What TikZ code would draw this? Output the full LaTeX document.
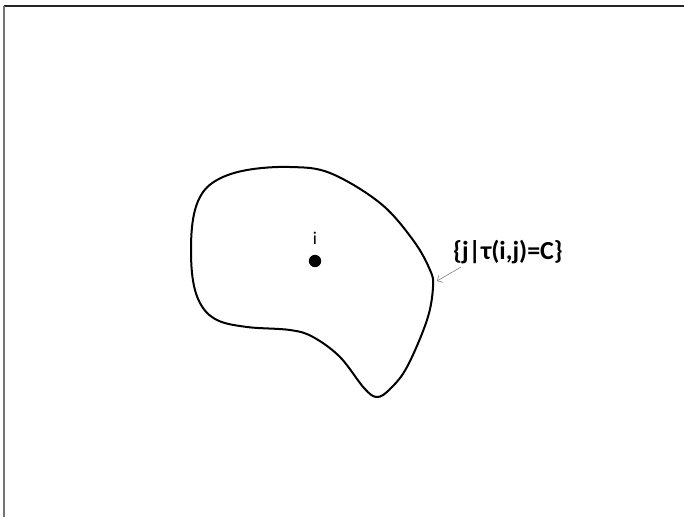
\documentclass[tikz,border=0pt]{standalone}
\usepackage{fontspec}
\setmainfont{Carlito}
\usetikzlibrary{arrows.meta}

\begin{document}
\begin{tikzpicture}[
        x=1pt, y=-1pt,
        >={Straight Barb[length=4pt]},
        every node/.style={inner sep=0pt}
    ]

% ---------- canvas and frame ----------
        \useasboundingbox (0,0) rectangle (684,517);
        \draw[black!85, line width=1.4pt] (4,6) -- (684,6);
        \draw[black!55, line width=1.8pt] (4,6) -- (4,517);

% ---------- region of constant tau ----------
        \draw[line width=2pt] plot[smooth cycle, tension=0.6] coordinates {
            (290,167) (330,173) (380,203) (413,240) (430,270) (433,287)
            (427,320) (407,367) (390,389) (377,397) (364,388) (340,357)
            (313,337) (290,330) (247,327) (217,320) (200,303) (192,273)
            (192,227) (200,197) (217,180) (247,170)
        };
        \coordinate (edge) at (437,281);

% ---------- point i ----------
        \fill (315,261) circle (6.2);
        \node[font=\fontsize{18}{20}\selectfont] (ilabel) at (315,238) {i};

% ---------- set label and pointer ----------
        \node[font=\fontsize{26}{30}\selectfont\bfseries] (setlabel) at (508,252) {\{j|τ(i,j)=C\}};
        \coordinate (tail) at (461,267);
        \draw[->, gray, line width=0.6pt] (tail) -- (edge);

    \end{tikzpicture}
\end{document}
